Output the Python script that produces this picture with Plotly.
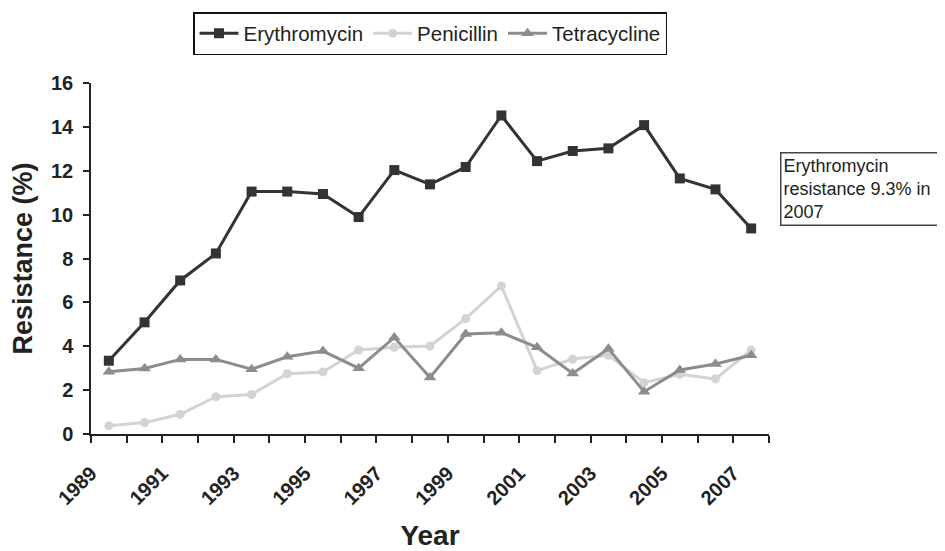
import plotly.graph_objects as go

years = [str(y) for y in range(1989, 2008)]
erythromycin = [3.34, 5.09, 7.0, 8.23, 11.05, 11.05, 10.94, 9.89, 12.03, 11.38,
                12.17, 14.52, 12.44, 12.9, 13.02, 14.08, 11.65, 11.15, 9.37]
penicillin = [0.38, 0.52, 0.9, 1.7, 1.8, 2.75, 2.83, 3.83, 3.95, 4.01,
              5.26, 6.75, 2.89, 3.42, 3.59, 2.34, 2.72, 2.51, 3.83]
tetracycline = [2.84, 2.99, 3.4, 3.4, 2.95, 3.52, 3.78, 3.0, 4.4, 2.58,
                4.56, 4.62, 3.95, 2.76, 3.89, 1.93, 2.92, 3.19, 3.59]
y_ticks = [0, 2, 4, 6, 8, 10, 12, 14, 16]

idx = list(range(len(years)))
label_pos = [i - 0.5 for i in idx[::2]]
FONT = "Liberation Sans, Arial, sans-serif"

fig = go.Figure()
fig.add_trace(go.Scatter(x=idx, y=erythromycin, name="Erythromycin", mode="lines+markers",
                         line=dict(color="#333333", width=3),
                         marker=dict(symbol="square", size=10, color="#333333")))
fig.add_trace(go.Scatter(x=idx, y=penicillin, name="Penicillin", mode="lines+markers",
                         line=dict(color="#d3d3d3", width=3),
                         marker=dict(symbol="circle", size=9, color="#d3d3d3")))
fig.add_trace(go.Scatter(x=idx, y=tetracycline, name="Tetracycline", mode="lines+markers",
                         line=dict(color="#8c8c8c", width=3),
                         marker=dict(symbol="triangle-up", size=11, color="#8c8c8c")))

fig.update_layout(
    width=937, height=543,
    margin=dict(l=83, r=176, t=75, b=117, autoexpand=False),
    plot_bgcolor="white", paper_bgcolor="white",
    font=dict(family=FONT, color="#222222"),
    showlegend=True,
    legend=dict(orientation="h", x=0.5, xref="paper", xanchor="center", y=0.9926, yref="container",
                yanchor="top", bordercolor="#111111", borderwidth=1.5,
                font=dict(size=20.5, color="#222222"), itemwidth=39,
                traceorder="normal"),
    xaxis=dict(
        automargin=False,
        range=[-0.5, len(years) - 0.5],
        tickmode="array",
        tickvals=label_pos,
        ticktext=[f"<b>{y}</b>" for y in years[::2]],
        ticks="",
        tickangle=-45,
        ticklabelstandoff=18,
        tickfont=dict(size=20, color="#222222", family=FONT),
        showline=True, linecolor="#222222", linewidth=1.5,
        showgrid=False, zeroline=False,
        minor=dict(ticks="outside", tickmode="linear", tick0=-0.5, dtick=1,
                   ticklen=7, tickwidth=1.5, tickcolor="#222222", showgrid=False),
        title=dict(text="<b>Year</b>", font=dict(size=28, color="#222222"), standoff=28),
    ),
    yaxis=dict(
        automargin=False,
        range=[0, 16],
        tickmode="array", tickvals=y_ticks,
        ticktext=[f"<b>{v}</b>" for v in y_ticks],
        ticks="outside", ticklen=6, tickwidth=1.5, tickcolor="#222222",
        ticklabelstandoff=6,
        tickfont=dict(size=20, color="#222222"),
        showline=True, linecolor="#222222", linewidth=1.5,
        showgrid=False, zeroline=False,
        title=dict(text="<b>Resistance (%)</b>", font=dict(size=27, color="#222222"), standoff=16),
    ),
    annotations=[dict(
        text="Erythromycin<br>resistance 9.3% in<br>2007",
        xref="paper", yref="paper", x=1.016, y=0.803, xanchor="left", yanchor="top",
        showarrow=False, align="left", width=200,
        font=dict(size=18, color="#222222"),
        bordercolor="#444444", borderwidth=1.5, borderpad=2, bgcolor="white",
    )],
)

fig.write_html("out.html")
